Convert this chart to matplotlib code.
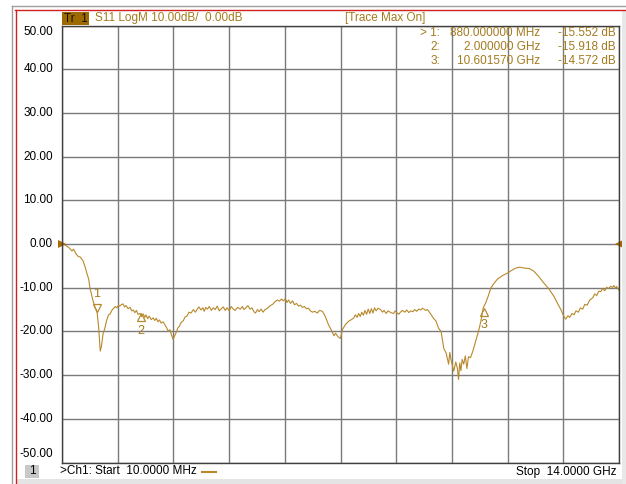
import matplotlib
matplotlib.use("Agg")
import matplotlib.pyplot as plt
import matplotlib.patches as mpatches
from matplotlib.lines import Line2D

plt.rcParams['font.family'] = ['Liberation Sans', 'DejaVu Sans']

# S11 trace (GHz, dB), one line per stretch of band
freq_ghz = [
    0.01, 0.10, 0.18, 0.26, 0.30, 0.36, 0.41, 0.47, 0.54, 0.60, 0.64, 0.68, 0.71, 0.75, 0.79, 0.84, 0.89,
    0.93, 0.97, 1.00, 1.04, 1.08, 1.13, 1.18,
    1.22, 1.26, 1.30, 1.35, 1.39, 1.43, 1.46, 1.50, 1.54, 1.58, 1.62, 1.67, 1.72, 1.76, 1.80, 1.84, 1.88, 1.92,
    1.97, 2.01, 2.05, 2.09, 2.12, 2.16, 2.20, 2.25, 2.30, 2.34, 2.38, 2.42, 2.46, 2.50, 2.55, 2.60, 2.64, 2.68,
    2.72, 2.76, 2.80, 2.84, 2.88, 2.92, 2.96, 3.00, 3.06, 3.10, 3.15, 3.20, 3.25,
    3.31, 3.36, 3.40, 3.45, 3.50, 3.55, 3.58, 3.62, 3.66, 3.71, 3.76, 3.81, 3.86, 3.91, 3.96, 4.01, 4.06,
    4.11, 4.16, 4.21, 4.26, 4.31, 4.36, 4.42, 4.49, 4.54, 4.58, 4.63, 4.68, 4.73, 4.78, 4.83, 4.87,
    4.92, 4.96, 5.01, 5.06, 5.11, 5.17, 5.23, 5.30, 5.36, 5.42, 5.47, 5.52, 5.57, 5.62, 5.66, 5.70, 5.75,
    5.80, 5.85, 5.90, 5.95, 6.00, 6.05, 6.10, 6.15, 6.20, 6.25, 6.30, 6.36, 6.42, 6.48,
    6.55, 6.62, 6.70, 6.78, 6.84, 6.88, 6.94, 7.00, 7.06, 7.13, 7.22, 7.28,
    7.33, 7.38, 7.42, 7.46, 7.50, 7.54, 7.58, 7.62, 7.66, 7.70, 7.74, 7.78, 7.82, 7.86, 7.90, 7.95,
    8.01, 8.06, 8.10, 8.15, 8.20, 8.27, 8.34, 8.38, 8.42, 8.47, 8.51, 8.56, 8.62, 8.67, 8.72, 8.77,
    8.82, 8.87, 8.92, 8.97, 9.02, 9.06, 9.10, 9.15, 9.19,
    9.27, 9.34, 9.40, 9.47, 9.53, 9.60, 9.66, 9.72, 9.75, 9.78, 9.85, 9.90, 9.94, 9.97, 10.00, 10.03, 10.06,
    10.10, 10.14, 10.18, 10.22, 10.27, 10.33, 10.40, 10.47, 10.53, 10.59, 10.65, 10.72, 10.78, 10.86, 10.95,
    11.08, 11.21, 11.31, 11.41, 11.51, 11.61, 11.74, 11.86, 11.98, 12.11, 12.24, 12.36, 12.45, 12.54, 12.60,
    12.66, 12.72, 12.76, 12.82, 12.87, 12.92, 12.98, 13.03, 13.09, 13.14, 13.20, 13.26, 13.34, 13.39,
    13.44, 13.49, 13.54, 13.59, 13.64, 13.69, 13.74, 13.79, 13.84, 13.87, 13.91, 13.94, 14.00]
s11_db = [
    0.0, -0.3, -0.8, -1.6, -1.2, -2.2, -2.8, -3.0, -3.9, -5.5, -6.9, -8.0, -10.0, -11.5, -13.0, -14.5, -15.5,
    -19.0, -24.5, -23.5, -20.6, -19.5, -17.5, -16.2,
    -16.0, -15.2, -14.8, -14.3, -14.6, -14.0, -14.2, -13.9, -13.7, -14.4, -14.1, -14.8, -14.5, -15.3, -15.1, -15.7, -15.2, -16.1,
    -15.9, -16.6, -16.0, -16.8, -16.2, -17.1, -16.5, -17.3, -16.9, -17.5, -17.0, -17.8, -17.4, -18.1, -17.8, -18.6, -19.2, -20.0,
    -19.6, -20.8, -21.8, -21.0, -20.2, -19.2, -18.8, -18.0, -17.5, -16.7, -16.5, -15.6, -15.8,
    -15.0, -15.6, -15.0, -14.4, -15.1, -14.6, -15.4, -14.5, -14.9, -14.3, -15.2, -14.6, -15.0, -14.2, -15.3, -14.8, -14.4,
    -15.2, -14.6, -15.3, -14.3, -14.9, -15.2, -14.5, -14.9, -14.3, -15.0, -14.6, -14.1, -14.9, -14.6, -15.5, -15.8,
    -15.0, -15.5, -14.9, -15.6, -15.0, -14.7, -14.2, -13.8, -13.2, -12.8, -13.1, -12.6, -13.0, -12.5, -13.4, -12.8, -13.6,
    -13.0, -13.9, -13.6, -14.2, -14.0, -14.5, -14.3, -14.8, -14.7, -15.3, -15.6, -15.4, -15.8, -15.2,
    -15.4, -16.5, -18.4, -19.8, -21.0, -20.4, -21.2, -21.6, -19.5, -18.4, -17.6, -17.3,
    -17.0, -16.2, -16.8, -15.9, -16.6, -15.6, -16.3, -15.2, -16.1, -14.9, -15.9, -14.8, -15.8, -14.6, -15.3, -14.7,
    -15.0, -15.6, -15.2, -15.9, -15.3, -15.7, -15.9, -15.3, -15.7, -16.1, -15.6, -15.2, -15.6, -15.1, -15.7, -15.3,
    -15.5, -15.0, -15.4, -14.9, -15.1, -14.7, -14.9, -15.2, -15.0,
    -16.0, -17.0, -17.6, -19.3, -20.0, -23.9, -25.0, -27.5, -24.8, -26.5, -29.1, -27.0, -28.4, -31.0, -27.2, -29.0, -26.4,
    -27.5, -25.6, -28.5, -25.8, -26.0, -24.5, -22.2, -20.0, -17.7, -14.6, -13.5, -11.8, -10.1, -9.0, -8.0,
    -7.2, -6.6, -6.0, -5.5, -5.3, -5.5, -5.6, -6.2, -7.4, -8.9, -10.3, -11.9, -13.5, -15.0, -16.3,
    -17.2, -16.4, -16.8, -15.9, -16.2, -15.3, -15.6, -14.6, -14.9, -13.8, -14.0, -12.9, -12.3, -11.4,
    -11.8, -10.8, -10.9, -10.2, -10.7, -9.9, -10.2, -9.7, -9.9, -9.5, -10.1, -9.7, -10.6]

# markers
marker_ids = ['1', '2', '3']
marker_freq = [0.88, 2.0, 10.60157]
marker_db = [-15.552, -15.918, -14.572]
marker_freq_text = ['880.000000 MHz', '2.000000 GHz', '10.601570 GHz']
marker_db_text = ['-15.552 dB', '-15.918 dB', '-14.572 dB']

y_ticks = [50, 40, 30, 20, 10, 0, -10, -20, -30, -40, -50]

W, H = 626, 484
trace_col = '#b8892c'
text_col = '#a47a1e'

fig = plt.figure(figsize=(W / 100, H / 100), dpi=100)


def fx(x):
    return x / W


def fy(y):
    return 1 - y / H


# 外框 (gray + red borders)
fig.add_artist(Line2D([fx(12), fx(626)], [fy(6), fy(6)], color='#a0a0a0', lw=1))
fig.add_artist(Line2D([fx(12), fx(12)], [fy(6), fy(484)], color='#a0a0a0', lw=1))
fig.add_artist(Line2D([fx(15), fx(626)], [fy(9.5), fy(9.5)], color='#d02020', lw=1))
fig.add_artist(Line2D([fx(15.5), fx(15.5)], [fy(9.5), fy(484)], color='#d02020', lw=1))
fig.add_artist(mpatches.Rectangle((fx(16), 0), fx(626) - fx(16), fy(479), color='#e4e4e4', lw=0))
fig.add_artist(mpatches.Rectangle((fx(622), 0), fx(4), 1 - 10 / H, color='#e8e8e8', lw=0))

left, right, top, bottom = 62, 619, 25.5, 462.5
ax = fig.add_axes([fx(left), fy(bottom), (right - left) / W, (bottom - top) / H])
ax.set_xlim(0.01, 14.0)
ax.set_ylim(-50, 50)
span = 14.0 - 0.01
ax.set_xticks([0.01 + span * i / 10 for i in range(11)])
ax.set_yticks(y_ticks)
ax.grid(True, color='#7a7a7a', lw=1)
ax.tick_params(length=0, labelbottom=False, labelleft=False)
for s in ax.spines.values():
    s.set_color('#404040')
    s.set_linewidth(1)
ax.set_axisbelow(True)

ax.plot(freq_ghz, s11_db, color=trace_col, lw=0.8)

# marker triangles and numbers
for i, (mid, mf, md) in enumerate(zip(marker_ids, marker_freq, marker_db)):
    if i == 0:
        ax.plot(mf, md + 1.0, marker='v', ms=6, mfc='none', mec=trace_col, mew=0.9)
        ax.text(mf, md + 4.2, mid, color=text_col, fontsize=9, ha='center', va='center')
    else:
        ax.plot(mf, md - 0.9, marker='^', ms=6, mfc='none', mec=trace_col, mew=0.9)
        ax.text(mf, md - 4.0, mid, color=text_col, fontsize=9, ha='center', va='center')

# reference level arrows
ax.plot(0.01, 0, marker='>', ms=6, color='#a86a00', clip_on=False, markeredgewidth=0)
ax.plot(14.0, 0, marker='<', ms=6, color='#a86a00', clip_on=False, markeredgewidth=0)

# y tick labels
for v in y_ticks:
    yy = bottom - (v + 50) / 100 * (bottom - top)
    if v == 50:
        yy += 6.5
    elif v == -50:
        yy -= 8.5
    fig.text(fx(53), fy(yy), f"{v:.2f}", ha='right', va='center', fontsize=8.5, color='black')

# header
fig.add_artist(mpatches.Rectangle((fx(62), fy(25)), fx(27), 13 / H, color='#9c6a00', lw=0))
fig.text(fx(64), fy(18.5), 'Tr  1', fontsize=8.5, color='#1a1000', va='center', ha='left')
fig.text(fx(95), fy(18.5), 'S11 LogM 10.00dB/  0.00dB', fontsize=8.5, color=text_col,
         va='center', ha='left')
fig.text(fx(345), fy(18.5), '[Trace Max On]', fontsize=8.5, color=text_col,
         va='center', ha='left')

# marker table
rows_y = [33.5, 47.5, 61.5]
for i in range(3):
    lab = ('> ' if i == 0 else '') + marker_ids[i] + ':'
    fig.text(fx(440), fy(rows_y[i]), lab, fontsize=8.5, color=text_col, ha='right', va='center')
    fig.text(fx(540), fy(rows_y[i]), marker_freq_text[i], fontsize=8.5, color=text_col,
             ha='right', va='center')
    fig.text(fx(616), fy(rows_y[i]), marker_db_text[i], fontsize=8.5, color=text_col,
             ha='right', va='center')

# footer
fig.add_artist(mpatches.Rectangle((fx(25), fy(478)), fx(14), 13 / H, color='#c8c8c8', lw=0))
fig.text(fx(32), fy(471.5), '1', fontsize=8.5, color='black', ha='center', va='center')
fig.text(fx(60), fy(471.5), '>Ch1: Start  10.0000 MHz', fontsize=8.5, color='black',
         ha='left', va='center')
fig.add_artist(Line2D([fx(202), fx(216)], [fy(471.5), fy(471.5)], color=trace_col, lw=1.5))
fig.text(fx(616), fy(471.5), 'Stop  14.0000 GHz', fontsize=8.5, color='black',
         ha='right', va='center')

fig.savefig('out.png', dpi=100)
